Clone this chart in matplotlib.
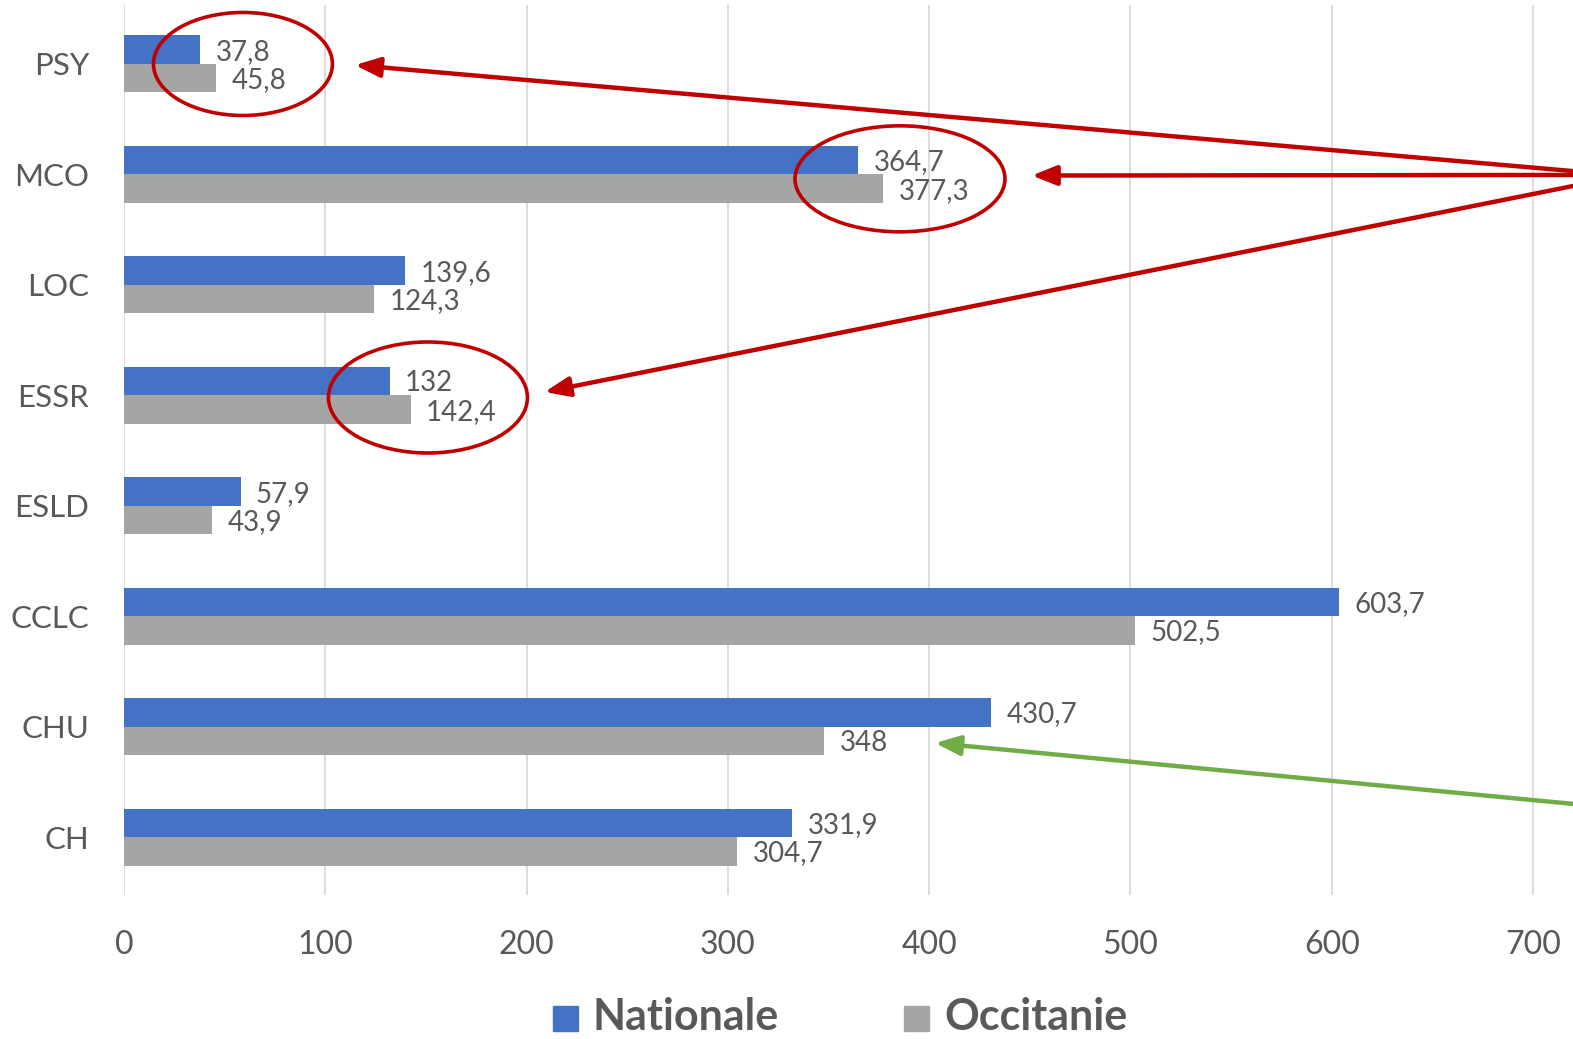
import matplotlib
matplotlib.use("Agg")
import matplotlib.pyplot as plt
from matplotlib.patches import Ellipse, Rectangle

# ── Data ─────────────────────────────────────────────────────────────────────
categories = ["PSY", "MCO", "LOC", "ESSR", "ESLD", "CCLC", "CHU", "CH"]
nationale  = [37.8, 364.7, 139.6, 132, 57.9, 603.7, 430.7, 331.9]
occitanie  = [45.8, 377.3, 124.3, 142.4, 43.9, 502.5, 348, 304.7]
x_ticks    = [0, 100, 200, 300, 400, 500, 600, 700]

BLUE  = "#4472C4"
GRAY  = "#A5A5A5"
TEXT  = "#595959"
RED   = "#C00000"
GREEN = "#70AD47"

plt.rcParams["font.family"] = ["Lato", "DejaVu Sans"]

W, H = 1573, 1039
fig = plt.figure(figsize=(W / 100, H / 100), dpi=100)
ax = fig.add_axes([124 / W, 1 - 895 / H, 1 - 124 / W, (895 - 5) / H])

n = len(categories)
ypos = [n - 1 - i for i in range(n)]
bh = 0.258

ax.barh([y + bh / 2 for y in ypos], nationale, height=bh, color=BLUE, zorder=3)
ax.barh([y - bh / 2 for y in ypos], occitanie, height=bh, color=GRAY, zorder=3)


def fmt(v):
    return f"{v:g}".replace(".", ",")


for y, a, b in zip(ypos, nationale, occitanie):
    ax.annotate(fmt(a), (a, y + bh / 2), xytext=(11, -1.5), textcoords="offset points",
                va="center", ha="left", fontsize=20, color=TEXT, zorder=4)
    ax.annotate(fmt(b), (b, y - bh / 2), xytext=(11, -1.5), textcoords="offset points",
                va="center", ha="left", fontsize=20, color=TEXT, zorder=4)

ax.set_xlim(0, (W - 124) / 2.0129)
ax.set_ylim(-0.525, 7.534)
ax.set_xticks(x_ticks)
ax.set_xticklabels([str(t) for t in x_ticks])
ax.set_yticks(ypos)
ax.set_yticklabels(categories)
ax.tick_params(axis="x", length=0, pad=25, labelsize=23, labelcolor=TEXT)
ax.tick_params(axis="y", length=0, pad=25, labelsize=22.5, labelcolor=TEXT)
ax.grid(axis="x", color="#D9D9D9", linewidth=1.3, zorder=0)
ax.grid(axis="y", visible=False)
for s in ax.spines.values():
    s.set_visible(False)

# ── Highlight ellipses ───────────────────────────────────────────────────────
px = 2.0129      # pixels per x unit
py = 110.43      # pixels per category
ellipses = [(59.1, 7.0, 179, 103), (385.5, 5.96, 210, 106), (151.0, 3.98, 199, 111)]
for cx, cy, w, h in ellipses:
    ax.add_patch(Ellipse((cx, cy), w / px, h / py, fill=False, edgecolor=RED,
                         linewidth=2.6, zorder=5, clip_on=False))

# ── Arrows ───────────────────────────────────────────────────────────────────
xr = (W - 124) / px
arrows = [
    ((114.8, 6.99), (xr, 6.03), RED),
    ((451.0, 5.99), (xr, 5.995), RED),
    ((209.0, 4.03), (xr, 5.895), RED),
    ((403.0, 0.851), (xr, 0.30), GREEN),
]
for tip, tail, col in arrows:
    ax.annotate("", xy=tip, xytext=tail,
                arrowprops=dict(arrowstyle="-|>,head_length=0.75,head_width=0.3",
                                color=col, lw=3.2, shrinkA=0, shrinkB=0,
                                mutation_scale=20),
                zorder=6, annotation_clip=False)

# ── Legend ───────────────────────────────────────────────────────────────────
for x0, label, col in [(553, "Nationale", BLUE), (904, "Occitanie", GRAY)]:
    fig.add_artist(Rectangle((x0 / W, 1 - 1031 / H), 25 / W, 25 / H,
                             transform=fig.transFigure, color=col))
    fig.text((x0 + 40) / W, 1 - 1030 / H, label, fontsize=31, fontweight="bold",
             color=TEXT, va="baseline", ha="left")

fig.savefig("out.png", dpi=100)
